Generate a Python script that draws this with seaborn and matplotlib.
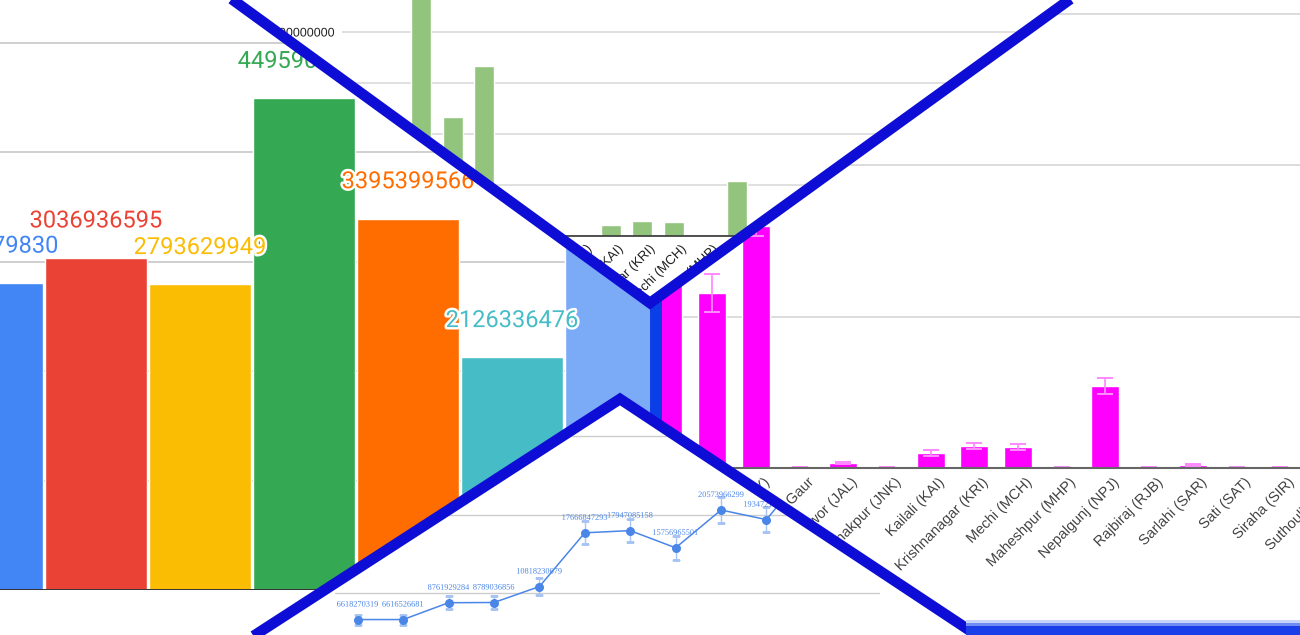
import numpy as np
import pandas as pd
import matplotlib
matplotlib.use("Agg")
import matplotlib.pyplot as plt
import matplotlib.patheffects as pe
from matplotlib.patches import Polygon, Rectangle
from matplotlib.lines import Line2D
from matplotlib.text import Text
from matplotlib.transforms import ScaledTranslation
from matplotlib.ticker import FuncFormatter
import seaborn as sns

# ---------------- data ----------------
years = ["2012", "2013", "2014", "2015", "2016", "2017", "2018"]
year_totals = [2806479830, 3036936595, 2793629949, 4495906138, 3395399566, 2126336476, 3245118702]
year_colors = ["#4285F4", "#EA4335", "#FBBC04", "#34A853", "#FF6D01", "#46BDC6", "#7BAAF7"]

offices = ["Bhadrapur (BDP)", "Bhairahawa (BHW)", "Birgunj (BIR)", "Biratnagar (BRT)",
           "Dryport (DRY)", "Gaur", "Jaleshwor (JAL)", "Janakpur (JNK)", "Kailali (KAI)",
           "Krishnanagar (KRI)", "Mechi (MCH)", "Maheshpur (MHP)", "Nepalgunj (NPJ)",
           "Rajbiraj (RJB)", "Sarlahi (SAR)", "Sati (SAT)", "Siraha (SIR)", "Suthouli (STH)"]
office_share = [1.2e9, 0.9e9, 5.6e9, 2.33e9, 3.33e9, 0.05e9, 0.1e9, 0.0, 0.216e9, 0.294e9,
                0.275e9, 0.0, 1.08e9, 0.05e9, 0.3e9, 0.02e9, 0.02e9, 0.1e9]
office_mean = [0.4, 0.9, 1.8, 1.157, 1.6, 0.004, 0.033, 0.003, 0.099, 0.145, 0.139, 0.003,
               0.542, 0.003, 0.02, 0.003, 0.003, 0.003]
office_err = [0.05, 0.08, 0.1, 0.126, 0.066, 0.002, 0.005, 0.002, 0.017, 0.017, 0.017, 0.002,
              0.056, 0.002, 0.004, 0.002, 0.002, 0.002]

months = ["Jan", "Feb", "Mar", "Apr", "May", "Jun", "Jul", "Aug", "Sep", "Oct", "Nov", "Dec"]
monthly = [6618270319, 6616526681, 8761929284, 8789036856, 10818230679, 17666847293,
           17947085158, 15756965501, 20573966299, 19347215842, 26434157210, 25108342977]
monthly_err = [0.64e9, 0.64e9, 0.85e9, 0.85e9, 1.08e9, 1.46e9, 1.5e9, 1.5e9, 1.65e9, 1.6e9,
               1.8e9, 1.9e9]

# ---------------- figure ----------------
sns.set_style("white")
plt.rcParams["font.family"] = ["Liberation Sans", "DejaVu Sans"]

W, H = 1300, 635
fig = plt.figure(figsize=(W / 100, H / 100), dpi=100)
fig.patch.set_facecolor("white")


def px_axes(x0, y0, x1, y1):
    ax = fig.add_axes([x0 / W, 1 - y1 / H, (x1 - x0) / W, (y1 - y0) / H])
    ax.patch.set_visible(False)
    return ax


def fp(x, y):
    return (x / W, 1 - y / H)


# ---- region 1: coloured columns ----
ax1 = px_axes(-60, 590 - 6 * 109.4, 668, 590)
df1 = pd.DataFrame({"year": years, "total": year_totals})
sns.barplot(data=df1, x="year", y="total", hue="year", palette=year_colors, saturation=1,
            width=0.972, legend=False, ax=ax1)
ax1.set_xlim(-0.5, 6.5)
ax1.set_ylim(0, 6e9)
ax1.set_yticks(np.arange(1, 6) * 1e9)
ax1.yaxis.grid(True, color="#cccccc", lw=1.3)
ax1.set_axisbelow(True)
ax1.tick_params(length=0, labelleft=False, labelbottom=False)
ax1.set_xlabel("")
ax1.set_ylabel("")
for s in ["top", "right", "left"]:
    ax1.spines[s].set_visible(False)
ax1.spines["bottom"].set_color("#333333")
ax1.spines["bottom"].set_linewidth(1.4)
for i, (v, c) in enumerate(zip(year_totals, year_colors)):
    ax1.annotate(str(v), (i, v), xytext=(0, 26.5), textcoords="offset points",
                 ha="center", va="center", fontsize=17, family="Roboto", color=c,
                 path_effects=[pe.withStroke(linewidth=3.5, foreground="white")])

# ---- region 2: green bars ----
ax2 = px_axes(342, 236 - 5 * 51, 342 + 23 * 31.6, 236)
df2 = pd.DataFrame({"office": offices, "value": office_share})
sns.barplot(data=df2, x="office", y="value", color="#93c47d", saturation=1, width=0.63, ax=ax2)
ax2.set_xlim(-0.5, 22.5)
ax2.set_ylim(0, 5e9)
ax2.set_yticks(np.arange(0, 5) * 1e9)
ax2.yaxis.set_major_formatter(FuncFormatter(lambda v, p: f"{v:.0f}"))
ax2.yaxis.grid(True, color="#dddddd", lw=1.3)
ax2.set_axisbelow(True)
ax2.tick_params(axis="y", length=0, pad=5, labelsize=9, labelcolor="#222222")
ax2.tick_params(axis="x", length=0, pad=5, labelsize=9.5, labelcolor="#222222")
ax2.set_xlabel("")
ax2.set_ylabel("")
plt.setp(ax2.get_xticklabels(), rotation=45, ha="right", rotation_mode="anchor")
for s in ["top", "right", "left"]:
    ax2.spines[s].set_visible(False)
ax2.spines["bottom"].set_color("#333333")
ax2.spines["bottom"].set_linewidth(1.2)

# ---- region 3: magenta bars with error bars ----
ax3 = px_axes(559.2, 468 - 4 * 151.3, 559.2 + 18 * 43.7, 468)
df3 = pd.DataFrame({"office": offices, "mean": office_mean, "err": office_err})
sns.barplot(data=df3, x="office", y="mean", color="#ff00ff", saturation=1, width=0.64, ax=ax3)
ax3.errorbar(x=np.arange(len(offices)), y=df3["mean"], yerr=df3["err"], fmt="none",
             ecolor="#ff8cff", elinewidth=1.3, capsize=5.5, capthick=1.3)
ax3.set_xlim(-0.5, 17.5)
ax3.set_ylim(0, 4)
ax3.set_yticks([1, 2, 3])
ax3.yaxis.grid(True, color="#d9d9d9", lw=1.3)
ax3.set_axisbelow(True)
ax3.tick_params(axis="y", length=0, labelleft=False)
ax3.tick_params(axis="x", length=0, pad=5, labelsize=10.5, labelcolor="#444444")
ax3.set_xlabel("")
ax3.set_ylabel("")
plt.setp(ax3.get_xticklabels(), rotation=45, ha="right", rotation_mode="anchor")
for s in ["top", "right", "left"]:
    ax3.spines[s].set_visible(False)
ax3.spines["bottom"].set_color("#666666")
ax3.spines["bottom"].set_linewidth(1.5)

# ---- region 4: line with error bars ----
ax4 = px_axes(335, 593 - 3 * 78.5, 880, 593 + 78.5)
df4 = pd.DataFrame({"month": months, "total": monthly, "err": monthly_err})
sns.lineplot(data=df4, x="month", y="total", color="#4a86e8", marker="o", markersize=6.5,
             markeredgewidth=0, lw=1.1, sort=False, ax=ax4)
ax4.errorbar(x=np.arange(len(months)), y=df4["total"], yerr=df4["err"], fmt="none",
             ecolor="#a8c4f2", elinewidth=1, capsize=3, capthick=1, zorder=1)
ax4.set_xlim(-0.5, 11.5)
ax4.set_ylim(0, 4e10)
ax4.set_yticks([1e10, 2e10, 3e10])
ax4.yaxis.grid(True, color="#cccccc", lw=1)
ax4.set_axisbelow(True)
ax4.tick_params(length=0, labelleft=False, labelbottom=False)
ax4.set_xlabel("")
ax4.set_ylabel("")
for s in ax4.spines.values():
    s.set_visible(False)
for i, v in enumerate(monthly):
    ax4.annotate(str(v), (i, v), xytext=(0, 10.8), textcoords="offset points",
                 ha="center", va="center", fontsize=6, family="Liberation Serif",
                 color="#4a86e8")

# ---------------- collage clipping ----------------
fig.canvas.draw()

for ax in (ax2, ax3):
    for lbl in ax.get_xticklabels():
        lbl.set_transform(lbl.get_transform() + ScaledTranslation(5 / 72, 0, fig.dpi_scale_trans))

R1 = [(-20, -20), (205.5, -20), (650, 303), (656, 303), (656, 423), (620, 399), (216.4, 660), (-20, 660)]
R2 = [(205.5, -20), (1096.7, -20), (650, 303)]
R3 = [(1096.7, -20), (1320, -20), (1320, 624), (963, 624), (656, 423), (656, 303), (650, 303)]
R4 = [(216.4, 660), (620, 399), (1015, 660)]

for ax, poly in ((ax1, R1), (ax2, R2), (ax3, R3), (ax4, R4)):
    clip = Polygon([fp(x, y) for x, y in poly], closed=True, transform=fig.transFigure)
    for art in ax.findobj():
        if art is ax:
            continue
        art.set_clip_on(True)
        art.set_clip_path(clip)
        if isinstance(art, Text) and not art.get_path_effects():
            art.set_path_effects([pe.Normal()])

# ---------------- blue separators ----------------
blue = "#0d0dd6"
def fig_line(pts, color, lw, z=20):
    xs = [fp(x, y)[0] for x, y in pts]
    ys = [fp(x, y)[1] for x, y in pts]
    fig.add_artist(Line2D(xs, ys, transform=fig.transFigure, color=color, lw=lw,
                          solid_joinstyle="miter", solid_capstyle="butt", zorder=z))

fig_line([(656, 300), (656, 425)], "#0a3ee6", 8.6, z=19)
fig_line([(205.5, -20), (650, 303), (1096.7, -20)], blue, 7.7)
fig_line([(216.4, 660), (620, 399), (975, 634)], blue, 7.7)

for y0, y1, col in ((620, 623, "#c8d3fb"), (623, 626, "#6f8cf3"), (626, 640, "#1a3ee8")):
    fig.add_artist(Rectangle(fp(966, y1), (1320 - 966) / W, (y1 - y0) / H,
                             transform=fig.transFigure, facecolor=col, edgecolor="none",
                             zorder=21))

fig.savefig("out.png", dpi=100)
